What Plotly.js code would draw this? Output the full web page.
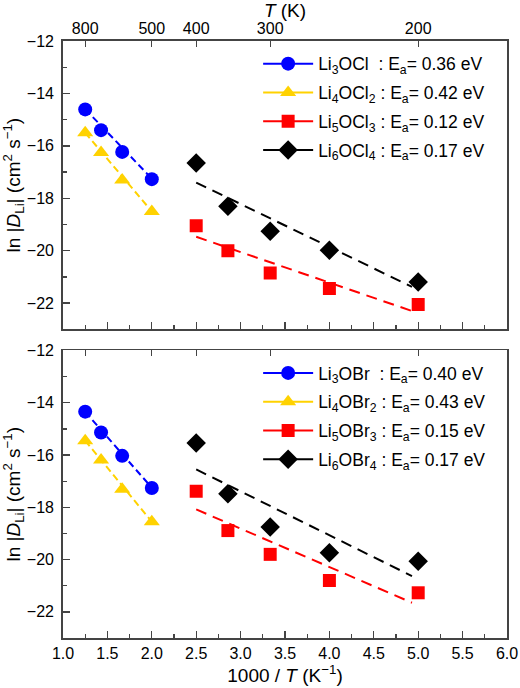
<!DOCTYPE html>
<html>
<head>
<meta charset="utf-8">
<script src="https://cdn.plot.ly/plotly-3.0.1.min.js"></script>
<style>
  html, body { margin: 0; padding: 0; background: #fff; }
  #chart { width: 520px; height: 688px; }
</style>
</head>
<body>
<div id="chart"></div>
<script>
// ---- data ----
const tempHigh = [800, 700, 600, 500];          // K
const tempLow = [400, 350, 300, 250, 200];      // K
const topTickTemps = [800, 500, 400, 300, 200];
const topTickLabels = ['800', '500', '400', '300', '200'];

// ln|D_Li| values, chlorides (top panel)
const li3ocl = [-14.61, -15.40, -16.23, -17.27];
const li4ocl2 = [-15.50, -16.25, -17.30, -18.50];
const li5ocl3 = [-19.05, -20.00, -20.85, -21.44, -22.05];
const li6ocl4 = [-16.65, -18.30, -19.26, -19.98, -21.19];

// bromides (bottom panel)
const li3obr = [-14.34, -15.14, -16.03, -17.26];
const li4obr2 = [-15.45, -16.19, -17.31, -18.55];
const li5obr3 = [-17.39, -18.89, -19.80, -20.80, -21.27];
const li6obr4 = [-15.54, -17.48, -18.75, -19.74, -20.06];

// Arrhenius fit lines (endpoints)
const fitXHigh = [1.25, 2.0];
const fitXLow = [2.5, 4.93];
const fitLi3ocl = [-14.60, -17.25];
const fitLi4ocl2 = [-15.50, -18.50];
const fitLi5ocl3 = [-19.47, -22.30];
const fitLi6ocl4 = [-17.40, -21.38];
const fitLi3obr = [-14.35, -17.25];
const fitLi4obr2 = [-15.45, -18.55];
const fitLi5obr3 = [-18.08, -21.65];
const fitLi6obr4 = [-16.55, -20.63];

const namesTop = ['Li<sub>3</sub>OCl&nbsp; : E<sub>a</sub>= 0.36 eV',
                  'Li<sub>4</sub>OCl<sub>2</sub> : E<sub>a</sub>= 0.42 eV',
                  'Li<sub>5</sub>OCl<sub>3</sub> : E<sub>a</sub>= 0.12 eV',
                  'Li<sub>6</sub>OCl<sub>4</sub> : E<sub>a</sub>= 0.17 eV'];
const namesBot = ['Li<sub>3</sub>OBr&nbsp; : E<sub>a</sub>= 0.40 eV',
                  'Li<sub>4</sub>OBr<sub>2</sub> : E<sub>a</sub>= 0.43 eV',
                  'Li<sub>5</sub>OBr<sub>3</sub> : E<sub>a</sub>= 0.15 eV',
                  'Li<sub>6</sub>OBr<sub>4</sub> : E<sub>a</sub>= 0.17 eV'];

// ---- styles ----
const colors = ['#0000FF', '#FFD200', '#FF0000', '#000000'];
const symbols = ['circle', 'triangle-up', 'square', 'diamond'];
const sizes = [14, 14, 13, 15];
const dashes = ['7px,4px', '7px,4px', '11px,7px', '11px,7px'];

const xHigh = tempHigh.map(t => 1000 / t);
const xLow = tempLow.map(t => 1000 / t);
const topTickVals = topTickTemps.map(t => 1000 / t);

const panels = [
  {xa: 'x2', ya: 'y2', legend: 'legend', names: namesTop,
   data: [li3ocl, li4ocl2, li5ocl3, li6ocl4],
   fits: [fitLi3ocl, fitLi4ocl2, fitLi5ocl3, fitLi6ocl4]},
  {xa: 'x', ya: 'y', legend: 'legend2', names: namesBot,
   data: [li3obr, li4obr2, li5obr3, li6obr4],
   fits: [fitLi3obr, fitLi4obr2, fitLi5obr3, fitLi6obr4]}
];

const traces = [];
panels.forEach(p => {
  for (let i = 0; i < 4; i++) {
    const xs = i < 2 ? xHigh : xLow;
    const fx = i < 2 ? fitXHigh : fitXLow;
    traces.push({x: fx, y: p.fits[i], xaxis: p.xa, yaxis: p.ya, mode: 'lines',
      line: {color: colors[i], width: 2, dash: dashes[i]}, showlegend: false, hoverinfo: 'skip'});
    traces.push({x: xs, y: p.data[i], xaxis: p.xa, yaxis: p.ya, mode: 'markers',
      marker: {color: colors[i], symbol: symbols[i], size: sizes[i]}, showlegend: false});
    // legend entry (solid line + marker)
    traces.push({x: [null], y: [null], xaxis: p.xa, yaxis: p.ya, mode: 'lines+markers',
      name: p.names[i], legend: p.legend, legendgroup: p.legend + i,
      line: {color: colors[i], width: 2}, marker: {color: colors[i], symbol: symbols[i], size: sizes[i]}});
  }
});
// empty traces so the temperature (top) axes are drawn
traces.push({x: [null], y: [null], xaxis: 'x3', yaxis: 'y', mode: 'markers', showlegend: false});
traces.push({x: [null], y: [null], xaxis: 'x4', yaxis: 'y2', mode: 'markers', showlegend: false});

const FONT = 'Liberation Sans, Arial, sans-serif';
const axColor = '#444';
const baseX = {
  range: [1, 6], tick0: 1, dtick: 0.5, tickformat: '.1f',
  ticks: 'inside', ticklen: 7, tickwidth: 1.3, tickcolor: axColor,
  minor: {dtick: 0.25, ticks: 'inside', ticklen: 4, tickwidth: 1.3, tickcolor: axColor},
  showline: true, linecolor: axColor, linewidth: 1.8, mirror: true,
  showgrid: false, zeroline: false
};
const baseY = {
  range: [-23, -12], tick0: -12, dtick: 2,
  ticks: 'inside', ticklen: 7, tickwidth: 1.3, tickcolor: axColor,
  minor: {dtick: 1, ticks: 'inside', ticklen: 4, tickwidth: 1.3, tickcolor: axColor},
  showline: true, linecolor: axColor, linewidth: 1.8, mirror: true,
  showgrid: false, zeroline: false, ticklabelstandoff: 4
};
const yTitle = {text: 'ln |<i>D</i><sub>Li</sub>| (cm<sup>2</sup> s<sup>\u22121</sup>)', standoff: 7};
const topX = {
  range: [1, 6], tickmode: 'array', tickvals: topTickVals, ticktext: topTickLabels,
  ticks: 'inside', ticklen: 6, tickwidth: 1.3, tickcolor: axColor, side: 'top',
  showgrid: false, zeroline: false, showline: false
};

const layout = {
  width: 520, height: 688,
  margin: {l: 63, r: 13, t: 41, b: 50},
  paper_bgcolor: '#fff', plot_bgcolor: '#fff',
  font: {family: FONT, size: 16, color: '#000'},
  showlegend: true,
  xaxis: Object.assign({}, baseX, {anchor: 'y',
    title: {text: '1000 / <i>T</i> (K<sup>\u22121</sup>)', standoff: 6}}),
  yaxis: Object.assign({}, baseY, {domain: [0, 0.4816], anchor: 'x', title: yTitle}),
  xaxis2: Object.assign({}, baseX, {anchor: 'y2', showticklabels: false}),
  yaxis2: Object.assign({}, baseY, {domain: [0.517, 1], anchor: 'x2', title: yTitle}),
  xaxis3: Object.assign({}, topX, {overlaying: 'x', anchor: 'y', showticklabels: false}),
  xaxis4: Object.assign({}, topX, {overlaying: 'x2', anchor: 'y2', ticklabelstandoff: 3,
    title: {text: '<i>T</i> (K)', standoff: 0}}),
  legend: {x: 0.4395, y: 0.992, xanchor: 'left', yanchor: 'top', bgcolor: 'rgba(0,0,0,0)',
    font: {family: FONT, size: 17.5}, itemwidth: 50, tracegroupgap: 3, traceorder: 'grouped'},
  legend2: {x: 0.4395, y: 0.474, xanchor: 'left', yanchor: 'top', bgcolor: 'rgba(0,0,0,0)',
    font: {family: FONT, size: 17.5}, itemwidth: 50, tracegroupgap: 3, traceorder: 'grouped'}
};

Plotly.newPlot('chart', traces, layout, {displayModeBar: false, staticPlot: true});
</script>
</body>
</html>
